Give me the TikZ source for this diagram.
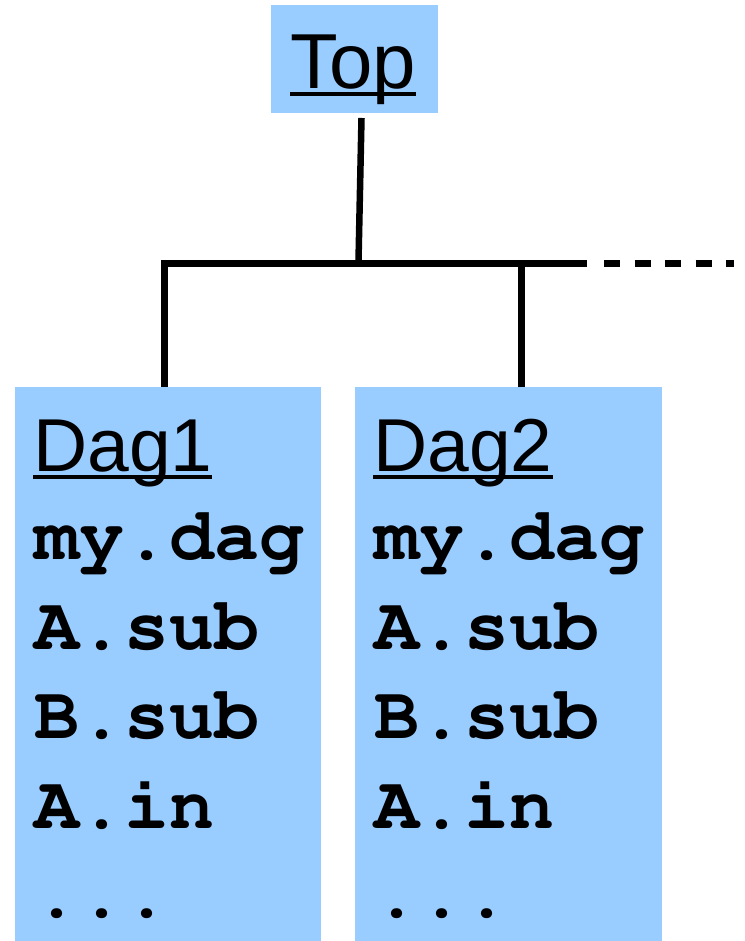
\documentclass[tikz,border=0pt]{standalone}
\usepackage{fontspec}
\setmainfont{Liberation Sans}
\definecolor{boxblue}{HTML}{99CCFF}
% Courier bold for the file names
\newcommand\codefont{\fontencoding{T1}\fontfamily{pcr}\fontseries{b}\selectfont}
% underline drawn through the descenders
\newcommand\ulabel[1]{\setbox0\hbox{#1}\rlap{\rule[-7.5pt]{\wd0}{4pt}}\box0}
\newcommand\moreline{.{}.{}.}
\tikzset{
  x=1pt, y=1pt,
  box/.style={fill=boxblue, draw=none, inner sep=0pt, anchor=center},
  title/.style={anchor=base west, inner sep=0pt, font=\fontsize{75}{89}\selectfont},
  code/.style={anchor=base west, inner sep=0pt, font=\fontsize{75}{89}\codefont},
  wire/.style={line width=6.5pt, black},
}
\begin{document}
\begin{tikzpicture}
\useasboundingbox (0,0) rectangle (744,941);
% boxes
\node[box, minimum width=167pt, minimum height=108pt] (top) at (354.5,882) {};
\node[box, minimum width=306pt, minimum height=554pt] (dag1) at (168,277) {};
\node[box, minimum width=307pt, minimum height=554pt] (dag2) at (508.5,277) {};
% labels
\node[title, font=\fontsize{78}{89}\selectfont] (toplbl) at (290,852) {\ulabel{Top}};
\node[title] (dag1lbl) at (33,469) {\ulabel{Dag1}};
\node[title] (dag2lbl) at (373,469) {\ulabel{Dag2}};
\foreach \t [count=\i] in {my.dag, A.sub, B.sub, A.in, \moreline} {
  \pgfmathsetmacro\yy{381-89.5*(\i-1)}
  \node[code] (c1-\i) at (34,\yy) {\t};
  \node[code] (c2-\i) at (374,\yy) {\t};
}
% connectors
\coordinate (stemtop) at (361.5,823);
\coordinate (stembot) at (358.5,680);
\coordinate (busL) at (164.5,677.5);
\coordinate (busR) at (586.7,677.5);
\coordinate (tapR) at (521.7,677.5);
\coordinate (dashA) at (604,677.5);
\coordinate (dashB) at (734,677.5);
\draw[wire] (stemtop) -- (stembot);
\draw[wire] (dag1.north -| busL) -- (busL) -- (busR);
\draw[wire] (tapR) -- (tapR |- dag2.north);
\draw[wire, dash pattern=on 16pt off 14.5pt] (dashA) -- (dashB);
\end{tikzpicture}
\end{document}
